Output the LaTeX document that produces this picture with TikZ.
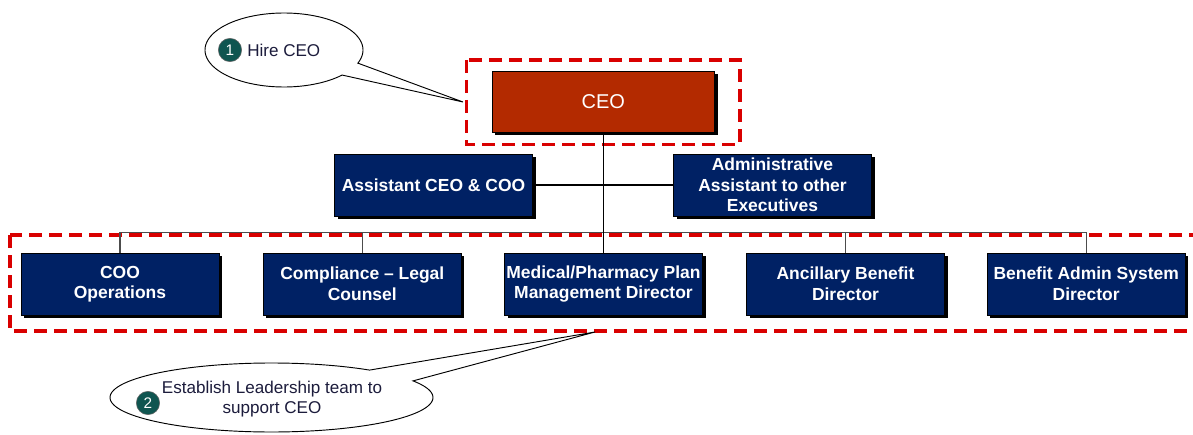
\documentclass[tikz,border=0pt]{standalone}
\usepackage{fontspec}
\setmainfont{Liberation Sans}
\usetikzlibrary{shadows}
\definecolor{navy}{RGB}{0,33,100}
\definecolor{ceored}{RGB}{179,42,0}
\definecolor{dashred}{RGB}{217,0,0}
\definecolor{tealc}{RGB}{15,85,80}
\definecolor{calltext}{RGB}{28,28,60}
\begin{document}
\begin{tikzpicture}[x=0.75pt,y=-0.75pt,
  orgbox/.style={draw=black, line width=0.6pt, fill=navy, text=white,
    font=\bfseries\fontsize{13.1}{15.4}\selectfont, align=center,
    minimum width=148.5pt, minimum height=46.5pt, inner sep=1pt,
    drop shadow={shadow xshift=2.25pt, shadow yshift=-2.25pt, fill=black, opacity=1}},
  ceobox/.style={orgbox, fill=ceored, font=\fontsize{15}{18}\selectfont,
    minimum width=167pt, minimum height=45.75pt},
  reddash/.style={draw=dashred, line width=2.5pt, dash pattern=on 9.5pt off 5.5pt},
  conn/.style={draw=black, line width=0.9pt},
  busline/.style={draw=black!70, line width=0.9pt},
  callout/.style={draw=black, line width=0.7pt, fill=white},
  numcirc/.style={circle, draw=black!60, line width=0.4pt, fill=tealc, text=white,
    minimum size=17.5pt, inner sep=0pt, font=\fontsize{11.5}{12}\selectfont},
  calltxt/.style={text=calltext, font=\fontsize{12.8}{14.6}\selectfont, align=center, inner sep=0pt}
]
\useasboundingbox (0,0) rectangle (1193,435);
\clip (0,0) rectangle (1193,435);

% dashed annotation frames
\draw[reddash] (466.7,60) rectangle (740,144.3);
\draw[reddash] (10,235) rectangle (1210,331);

% nodes
\node[ceobox] (ceo) at (603.3,102) {CEO};
\node[orgbox] (asst) at (433.5,185) {Assistant CEO \& COO};
\node[orgbox] (admin) at (772.5,185) {Administrative\\Assistant to other\\Executives};

\node[orgbox] (coo) at (120,284) {COO\\Operations};
\node[orgbox] (comp) at (362.3,284) {Compliance – Legal\\Counsel};
\node[orgbox] (med) at (603.5,284) {Medical/Pharmacy Plan\\Management Director};
\node[orgbox] (anc) at (845.5,284) {Ancillary Benefit\\Director};
\node[orgbox] (bas) at (1086.2,284) {Benefit Admin  System\\Director};

\coordinate (busy) at (0,232.3);

% connectors
\draw[busline] (coo.north |- busy) -- (bas.north |- busy);
\draw[busline] (coo.north) -- (coo.north |- busy);
\draw[busline] (comp.north) -- (comp.north |- busy);
\draw[busline] (anc.north) -- (anc.north |- busy);
\draw[busline] (bas.north) -- (bas.north |- busy);
\draw[conn] (ceo.south) -- (ceo.south |- med.north);
\draw[conn] (asst.east) -- (admin.west);

% callout 1
\coordinate (tip1) at (463,102);
\draw[callout] plot[domain=42.6:380.8, samples=120, smooth] ({284+79*cos(\x)},{50+37*sin(\x)}) -- (tip1) -- cycle;
\node[numcirc] (n1) at (230,50) {1};
\node[calltxt, anchor=west] (t1) at (247,50.5) {Hire CEO};

% callout 2
\coordinate (tip2) at (595,332);
\draw[callout] plot[domain=-28.8:307.4, samples=150, smooth] ({271.5+161.5*cos(\x)},{397.5+34.5*sin(\x)}) -- (tip2) -- cycle;
\node[numcirc] (n2) at (148,403) {2};
\node[calltxt] (t2) at (272,399) {Establish Leadership team to\\support CEO};
\end{tikzpicture}
\end{document}
